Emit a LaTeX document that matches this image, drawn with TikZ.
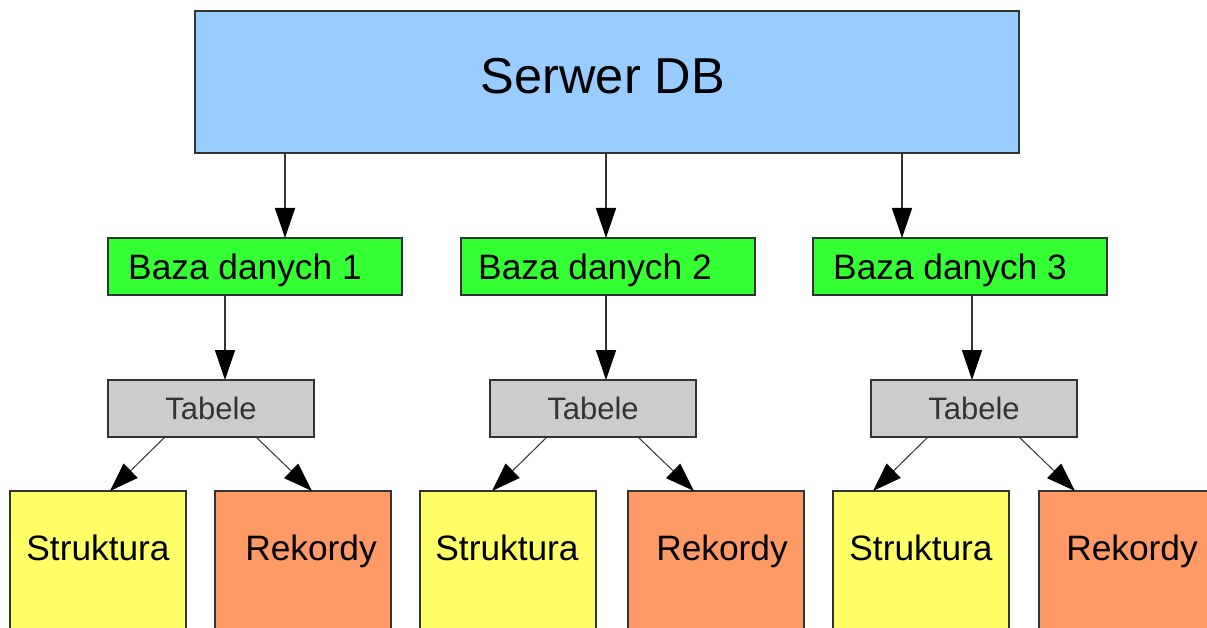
\documentclass[tikz,border=0pt]{standalone}
\usepackage{fontspec}
\setmainfont{Liberation Sans}
\usetikzlibrary{arrows.meta,calc}

\definecolor{edge}{HTML}{333333}
\definecolor{serverblue}{HTML}{99CCFF}
\definecolor{dbgreen}{HTML}{33FF33}
\definecolor{tabgray}{HTML}{CCCCCC}
\definecolor{structyellow}{HTML}{FFFF66}
\definecolor{recorange}{HTML}{FF9966}

\tikzset{
  box/.style={draw=edge, line width=1.3pt, inner sep=0pt, outer sep=0pt, anchor=north west},
  % label boxes span exactly the cap height, so their centre is the centre of the capitals
  lab/.style={inner sep=0pt, text=black, text depth=0pt},
  srvbox/.style={box, fill=serverblue, minimum width=824pt, minimum height=142pt},
  dbbox/.style={box, fill=dbgreen, minimum width=294pt, minimum height=57pt},
  tabbox/.style={box, fill=tabgray, minimum width=206pt, minimum height=57pt},
  leafbox/.style={box, minimum width=176pt, minimum height=150pt},
  bigfont/.style={font=\fontsize{50.5}{60}\selectfont, text height=36.2pt},
  dbfont/.style={font=\fontsize{35.3}{42}\selectfont, text height=25.3pt},
  tabfont/.style={font=\fontsize{31}{37}\selectfont, text=edge, text height=22.2pt},
  leaffont/.style={font=\fontsize{35.3}{42}\selectfont, text height=25.3pt},
  vlink/.style={draw=edge, line width=1.5pt, -{Triangle[length=30pt,width=20pt,color=black]}},
  dlink/.style={draw=edge, line width=1pt, -{Triangle[length=29pt,width=20pt,color=black]}}
}

\begin{document}
\begin{tikzpicture}[x=1pt, y=-1pt]
\useasboundingbox (0,0) rectangle (1207,628);
\fill[white] (0,0) rectangle (1207,628);
\clip (0,0) rectangle (1207,628);

% server
\node[srvbox, label={[lab, bigfont, xshift=-4pt, yshift=7pt]center:Serwer DB}] (srv) at (195,11) {};

% databases
\node[dbbox, label={[lab, dbfont, xshift=-10pt, yshift=0pt]center:Baza danych 1}] (b1) at (108,238) {};
\node[dbbox, label={[lab, dbfont, xshift=-13pt, yshift=0pt]center:Baza danych 2}] (b2) at (461,238) {};
\node[dbbox, label={[lab, dbfont, xshift=-10pt, yshift=0pt]center:Baza danych 3}] (b3) at (813,238) {};

% tables
\node[tabbox, label={[lab, tabfont, yshift=0.5pt]center:Tabele}] (t1) at (108,380) {};
\node[tabbox, label={[lab, tabfont, yshift=0.5pt]center:Tabele}] (t2) at (490,380) {};
\node[tabbox, label={[lab, tabfont, yshift=0.5pt]center:Tabele}] (t3) at (871,380) {};

% structure and records
\node[leafbox, fill=structyellow, label={[lab, leaffont, yshift=18pt]center:Struktura}] (s1) at (10,491) {};
\node[leafbox, fill=recorange, label={[lab, leaffont, xshift=8pt, yshift=18pt]center:Rekordy}] (r1) at (215,491) {};
\node[leafbox, fill=structyellow, label={[lab, leaffont, xshift=-1pt, yshift=18pt]center:Struktura}] (s2) at (420,491) {};
\node[leafbox, fill=recorange, label={[lab, leaffont, xshift=6pt, yshift=18pt]center:Rekordy}] (r2) at (628,491) {};
\node[leafbox, fill=structyellow, label={[lab, leaffont, yshift=18pt]center:Struktura}] (s3) at (833,491) {};
\node[leafbox, fill=recorange, label={[lab, leaffont, xshift=5pt, yshift=18pt]center:Rekordy}] (r3) at (1039,491) {};

% x positions of the vertical links
\coordinate (xa) at (285,0);
\coordinate (xb) at (606,0);
\coordinate (xc) at (902,0);
\coordinate (xd) at (225,0);
\coordinate (xe) at (606,0);
\coordinate (xf) at (972,0);

\draw[vlink] (srv.south -| xa) -- (b1.north -| xa);
\draw[vlink] (srv.south -| xb) -- (b2.north -| xb);
\draw[vlink] (srv.south -| xc) -- (b3.north -| xc);

\draw[vlink] (b1.south -| xd) -- (t1.north -| xd);
\draw[vlink] (b2.south -| xe) -- (t2.north -| xe);
\draw[vlink] (b3.south -| xf) -- (t3.north -| xf);

% diagonal links from tables
\draw[dlink] ($(t1.south)+(-46,0)$) -- ($(t1.south)+(-101,54)$);
\draw[dlink] ($(t1.south)+(45,0)$) -- ($(t1.south)+(101,54)$);
\draw[dlink] ($(t2.south)+(-46,0)$) -- ($(t2.south)+(-101,54)$);
\draw[dlink] ($(t2.south)+(45,0)$) -- ($(t2.south)+(101,54)$);
\draw[dlink] ($(t3.south)+(-46,0)$) -- ($(t3.south)+(-101,54)$);
\draw[dlink] ($(t3.south)+(45,0)$) -- ($(t3.south)+(101,54)$);
\end{tikzpicture}
\end{document}
